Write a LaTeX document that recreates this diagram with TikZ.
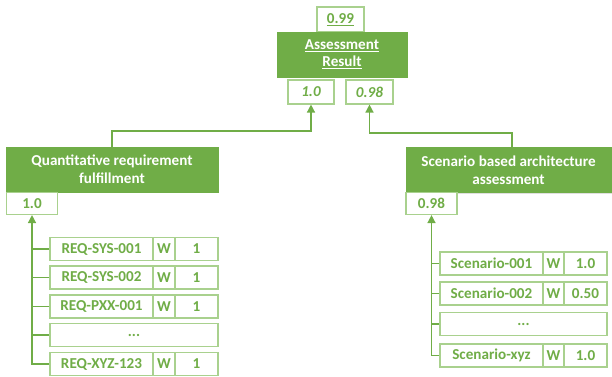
\documentclass[tikz,border=0pt]{standalone}
\usepackage{fontspec}
\setmainfont{Carlito}
\usetikzlibrary{arrows.meta,shadows}
\definecolor{gmain}{HTML}{70AD47}
\definecolor{glight}{HTML}{A9D18E}
\tikzset{
  cell/.style={draw=glight, line width=1.1bp, fill=white, text=gmain, inner sep=0pt,
    font=\fontsize{15.2}{17}\selectfont\bfseries, align=center, minimum height=23bp},
  gbox/.style={fill=gmain, draw=gmain, text=white, inner sep=0pt, align=center,
    font=\fontsize{15.2}{18}\selectfont\bfseries,
    drop shadow={opacity=0.25, shadow xshift=1.2bp, shadow yshift=-1.2bp, fill=gray}},
  conn/.style={draw=gmain, line width=1.4bp},
  arr/.style={conn, -{Triangle[width=8bp,length=8bp]}}
}
\begin{document}
\begin{tikzpicture}[x=1bp,y=-1bp]
\useasboundingbox (0,0) rectangle (612,376);
% top
\node[cell, minimum width=47bp, minimum height=25bp] (v099) at (340.5,19.5) {\underline{0.99}};
\node[gbox, minimum width=130bp, minimum height=45bp] (ar) at (342,54.5) {\underline{Assessment}\\[-1pt]\underline{Result}};
\node[cell, minimum width=46bp, minimum height=24bp] (t10) at (311,92) {\itshape 1.0};
\node[cell, minimum width=47bp, minimum height=24bp] (t098) at (369.5,92) {\itshape 0.98};
% left branch
\node[gbox, minimum width=212bp, minimum height=45bp] (q) at (112,169.5) {Quantitative requirement\\fulfillment};
\node[cell, minimum width=51bp, minimum height=22bp] (q10) at (32,203.5) {1.0};
% right branch
\node[gbox, minimum width=205bp, minimum height=45bp] (s) at (508.5,170) {Scenario based architecture\\assessment};
\node[cell, minimum width=51bp, minimum height=22bp] (s098) at (431.5,203.5) {0.98};
% left rows
\foreach \i/\y/\n in {1/249/REQ-SYS-001,2/277.5/REQ-SYS-002,3/306.5/REQ-PXX-001,5/364/REQ-XYZ-123}{
  \node[cell, minimum width=103bp] (ln\i) at (101.5,\y) {\n};
  \node[cell, minimum width=22bp] (lw\i) at (164,\y) {W};
  \node[cell, minimum width=43bp] (lv\i) at (196.5,\y) {1};
}
\node[cell, minimum width=168bp] (ln4) at (134,335) {...};
% right rows
\foreach \i/\y/\n/\v in {1/263.5/Scenario-001/1.0,2/293.5/Scenario-002/0.50,4/355.5/Scenario-xyz/1.0}{
  \node[cell, minimum width=103bp] (rn\i) at (491.5,\y) {\n};
  \node[cell, minimum width=21bp] (rw\i) at (553.5,\y) {W};
  \node[cell, minimum width=43bp] (rv\i) at (585.5,\y) {\v};
}
\node[cell, minimum width=167bp] (rn3) at (523.5,324) {...};
% connectors top
\coordinate (sn) at ([xshift=3.5bp]s.north);
\draw[arr] (q.north) -- (q.north |- 0,131) -| (t10.south);
\draw[arr] (sn) -- (sn |- 0,133) -| (t098.south);
% left tree
\draw[arr] (ln5.west) -- (ln5.west -| q10.south) -- (q10.south);
\foreach \i in {1,2,3,4}{ \draw[conn] (ln\i.west) -- (ln\i.west -| q10.south); }
% right tree
\draw[arr] (rn4.west) -- (rn4.west -| s098.south) -- (s098.south);
\foreach \i in {1,2,3}{ \draw[conn] (rn\i.west) -- (rn\i.west -| s098.south); }
\end{tikzpicture}
\end{document}
